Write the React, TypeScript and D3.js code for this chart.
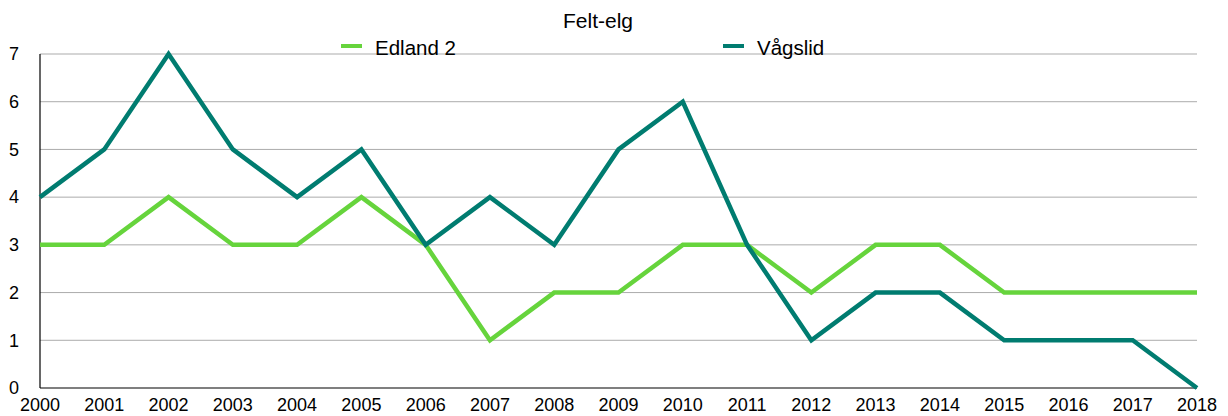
import React, { useEffect, useRef } from "react";
import * as d3 from "d3";

const years = [
  "2000", "2001", "2002", "2003", "2004", "2005", "2006", "2007", "2008", "2009",
  "2010", "2011", "2012", "2013", "2014", "2015", "2016", "2017", "2018",
];
const edland = [3, 3, 4, 3, 3, 4, 3, 1, 2, 2, 3, 3, 2, 3, 3, 2, 2, 2, 2];
const vagslid = [4, 5, 7, 5, 4, 5, 3, 4, 3, 5, 6, 3, 1, 2, 2, 1, 1, 1, 0];
const yTicks = [0, 1, 2, 3, 4, 5, 6, 7];

const App: React.FC = () => {
  const svgRef = useRef<SVGSVGElement | null>(null);

  useEffect(() => {
    const width = 1228;
    const height = 416;
    const margin = { top: 54, right: 31, bottom: 28, left: 40 };
    const font = "Helvetica, Arial, 'Liberation Sans', sans-serif";

    const svg = d3.select(svgRef.current);
    svg.selectAll("*").remove();

    const x = d3
      .scalePoint<string>()
      .domain(years)
      .range([margin.left, width - margin.right]);
    const y = d3
      .scaleLinear()
      .domain([0, 7])
      .range([height - margin.bottom, margin.top]);

    // gridlines
    svg
      .append("g")
      .selectAll("line")
      .data(yTicks.filter((t) => t > 0))
      .enter()
      .append("line")
      .attr("x1", margin.left)
      .attr("x2", width - margin.right)
      .attr("y1", (d) => y(d))
      .attr("y2", (d) => y(d))
      .attr("stroke", "#ababab")
      .attr("stroke-width", 1);

    // y labels
    svg
      .append("g")
      .selectAll("text")
      .data(yTicks)
      .enter()
      .append("text")
      .attr("x", 14)
      .attr("y", (d) => y(d))
      .attr("dy", "0.35em")
      .attr("text-anchor", "middle")
      .style("font-family", font)
      .style("font-size", "18px")
      .text((d) => d);

    // x labels
    svg
      .append("g")
      .selectAll("text")
      .data(years)
      .enter()
      .append("text")
      .attr("x", (d) => x(d)!)
      .attr("y", height - 5)
      .attr("text-anchor", "middle")
      .style("font-family", font)
      .style("font-size", "18px")
      .text((d) => d);

    // axes lines
    svg
      .append("line")
      .attr("x1", margin.left)
      .attr("x2", width - margin.right)
      .attr("y1", y(0))
      .attr("y2", y(0))
      .attr("stroke", "#000")
      .attr("stroke-width", 1.2);
    svg
      .append("line")
      .attr("x1", margin.left)
      .attr("x2", margin.left)
      .attr("y1", y(0))
      .attr("y2", y(7))
      .attr("stroke", "#000")
      .attr("stroke-width", 1.2);

    const line = d3
      .line<number>()
      .x((_, i) => x(years[i])!)
      .y((d) => y(d));

    const series = [
      { name: "Edland 2", values: edland, color: "#66d43c" },
      { name: "Vågslid", values: vagslid, color: "#007c70" },
    ];

    series.forEach((s) => {
      svg
        .append("path")
        .datum(s.values)
        .attr("d", line)
        .attr("fill", "none")
        .attr("stroke", s.color)
        .attr("stroke-width", 4.5)
        .attr("stroke-linejoin", "miter");
    });

    // title
    svg
      .append("text")
      .attr("x", 598)
      .attr("y", 28)
      .attr("text-anchor", "middle")
      .style("font-family", font)
      .style("font-size", "21px")
      .text("Felt-elg");

    // legend
    const legendX = [341, 723];
    series.forEach((s, i) => {
      svg
        .append("rect")
        .attr("x", legendX[i])
        .attr("y", 44)
        .attr("width", 21)
        .attr("height", 4)
        .attr("fill", s.color);
      svg
        .append("text")
        .attr("x", legendX[i] + 34)
        .attr("y", 55)
        .style("font-family", font)
        .style("font-size", "20.5px")
        .text(s.name);
    });
  }, []);

  return (
    <svg
      ref={svgRef}
      width={1228}
      height={416}
      style={{ position: "absolute", left: 0, top: 0, background: "#fff" }}
    ></svg>
  );
};

export default App;
